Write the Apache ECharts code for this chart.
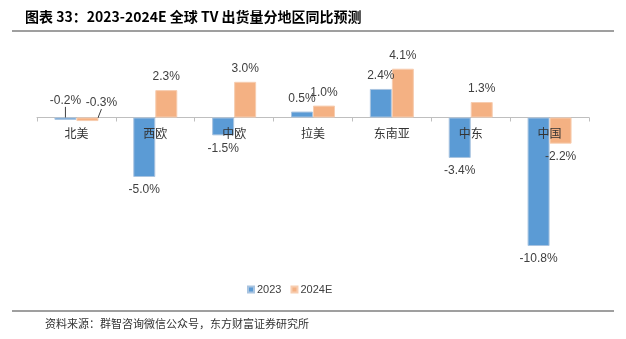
<!DOCTYPE html>
<html><head><meta charset="utf-8">
<script src="https://cdn.jsdelivr.net/npm/echarts@6/dist/echarts.min.js"></script>
<style>html,body{margin:0;padding:0;background:#fff}#c{width:626px;height:339px}</style>
</head><body><div id="c"></div>
<script>
const categories = ['北美','西欧','中欧','拉美','东南亚','中东','中国'];
const s2023 = [-0.2, -5.0, -1.5, 0.5, 2.4, -3.4, -10.8];
const s2024E = [-0.3, 2.3, 3.0, 1.0, 4.1, 1.3, -2.2];
const seriesNames = ['2023','2024E'];
const titleText = '图表 33：2023-2024E 全球 TV 出货量分地区同比预测';
const sourceText = '资料来源：群智咨询微信公众号，东方财富证券研究所';

const CJK = '"Noto Sans CJK SC", "Noto Sans", sans-serif';
const LAT = '"Liberation Sans", Arial, sans-serif';

function mk(arr){
  return arr.map((v, i) => ({value: v,
    label: {position: v < 0 ? 'bottom' : 'top'},
    labelLine: {show: i === 0}}));
}
const chart = echarts.init(document.getElementById('c'), null, {renderer:'canvas'});
chart.setOption({
  animation: false,
  title: {text: titleText, left: 20, top: 5,
    textStyle: {fontSize: 14, fontWeight: 'bold', color: '#000', fontFamily: CJK}},
  graphic: [
    {type:'line', shape:{x1:12,y1:31,x2:614,y2:31}, style:{stroke:'#7f7f7f', lineWidth:1.5}},
    {type:'line', shape:{x1:12,y1:311,x2:614,y2:311}, style:{stroke:'#7f7f7f', lineWidth:1.5}},
    {type:'text', left:45, top:318, style:{text: sourceText, fontSize:11, fill:'#333', fontFamily: CJK}}
  ],
  legend: {data: seriesNames, left: 242, top: 279, itemWidth: 6, itemHeight: 6, itemGap: 9,
    icon: 'rect', textStyle: {fontSize: 11, color: '#404040', fontFamily: LAT, padding:[0,0,0,-2]}},
  grid: [
    {left: 37, right: 37, top: 46.1, bottom: 78.7},
    {left: 37, right: 37, top: 46.1, height: 71.4}
  ],
  xAxis: [
    {type: 'category', data: categories, gridIndex: 0,
      axisLine: {lineStyle: {color: '#bfbfbf', width: 1}},
      axisTick: {show: true, length: 4, lineStyle: {color: '#bfbfbf'}},
      axisLabel: {show: false}},
    {type: 'category', data: categories, gridIndex: 1, z: 20, zlevel: 1,
      axisLine: {show: false}, axisTick: {show: false},
      axisLabel: {fontSize: 12, color: '#333', margin: 10, fontFamily: CJK}}
  ],
  yAxis: [
    {type: 'value', min: -12, max: 6, interval: 6, show: false, splitLine: {show:false}, gridIndex: 0},
    {type: 'value', min: 0, max: 6, show: false, splitLine: {show:false}, gridIndex: 1}
  ],
  series: [
    {name: '2023', type: 'bar', data: mk(s2023), barWidth: 22, barGap: '0%',
      itemStyle: {color: '#5B9BD5', borderColor: '#a9c4e0', borderWidth: 1},
      label: {show: true, formatter: p => p.value.toFixed(1) + '%', distance: 7,
        fontSize: 12, color: '#404040', fontFamily: LAT},
      labelLine: {show: true, lineStyle: {color: '#404040', width: 1}},
      labelLayout: p => p.dataIndex === 0 ? {dy: -32} : {}
    },
    {name: '2024E', type: 'bar', data: mk(s2024E), barWidth: 22, barGap: '0%',
      itemStyle: {color: '#F4B183', borderColor: '#f7cdb0', borderWidth: 1},
      label: {show: true, formatter: p => p.value.toFixed(1) + '%', distance: 7,
        fontSize: 12, color: '#404040', fontFamily: LAT},
      labelLine: {show: true, lineStyle: {color: '#404040', width: 1}},
      labelLayout: p => p.dataIndex === 0 ? {dx: 14, dy: -31} : {}
    }
  ]
});
</script></body></html>
